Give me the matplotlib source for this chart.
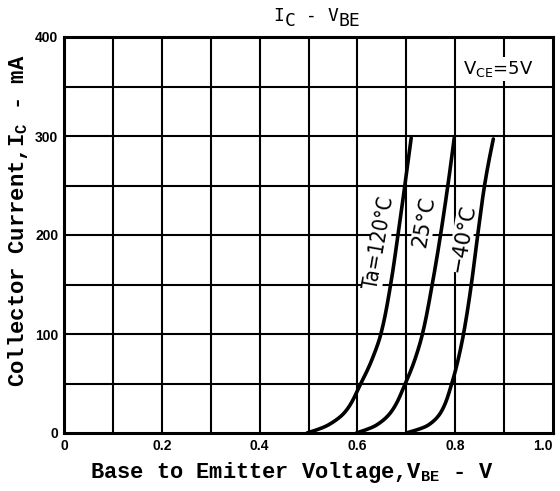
import matplotlib
matplotlib.use("Agg")
import matplotlib.pyplot as plt
import numpy as np

# Data (V_BE in V, I_C in mA)
i_pts = [0, 8, 22, 50, 72, 100, 150, 200, 250, 298]
v_120 = [0.497, 0.540, 0.576, 0.607, 0.628, 0.648, 0.668, 0.683, 0.697, 0.710]
v_25 = [0.598, 0.639, 0.670, 0.698, 0.716, 0.733, 0.753, 0.770, 0.785, 0.798]
i_m40 = [0, 8, 22, 50, 72, 100, 150, 200, 250, 297]
v_m40 = [0.700, 0.745, 0.772, 0.793, 0.805, 0.817, 0.833, 0.846, 0.860, 0.878]

x_ticks = [0, 0.2, 0.4, 0.6, 0.8, 1.0]
x_tick_labels = ["0", "0.2", "0.4", "0.6", "0.8", "1.0"]
y_ticks = [0, 100, 200, 300, 400]
y_tick_labels = ["0", "100", "200", "300", "400"]

mono = "Liberation Mono"


def pchip(x, y, xn):
    """Monotone cubic (Fritsch-Carlson) interpolation."""
    x = np.asarray(x, float); y = np.asarray(y, float)
    h = np.diff(x); d = np.diff(y) / h
    m = np.zeros_like(y)
    for k in range(1, len(x) - 1):
        if d[k-1] * d[k] > 0:
            w1 = 2*h[k] + h[k-1]; w2 = h[k] + 2*h[k-1]
            m[k] = (w1 + w2) / (w1/d[k-1] + w2/d[k])

    def edge(h0, h1, d0, d1):
        mm = ((2*h0 + h1)*d0 - h0*d1) / (h0 + h1)
        if np.sign(mm) != np.sign(d0):
            mm = 0.0
        elif np.sign(d0) != np.sign(d1) and abs(mm) > abs(3*d0):
            mm = 3*d0
        return mm
    m[0] = edge(h[0], h[1], d[0], d[1])
    m[-1] = edge(h[-1], h[-2], d[-1], d[-2])
    idx = np.clip(np.searchsorted(x, xn) - 1, 0, len(x) - 2)
    t = (xn - x[idx]) / h[idx]
    h00 = 2*t**3 - 3*t**2 + 1; h10 = t**3 - 2*t**2 + t
    h01 = -2*t**3 + 3*t**2; h11 = t**3 - t**2
    return h00*y[idx] + h10*h[idx]*m[idx] + h01*y[idx+1] + h11*h[idx]*m[idx+1]


fig = plt.figure(figsize=(5.6, 4.91), dpi=100)
ax = fig.add_axes([64/560, 1-433/491, (553-64)/560, (433-37)/491])

ax.set_xlim(0, 1.0)
ax.set_ylim(0, 400)

for gx in np.arange(0.1, 0.95, 0.1):
    ax.axvline(gx, color="black", lw=1.5, zorder=1)
for gy in np.arange(50, 400, 50):
    ax.axhline(gy, color="black", lw=1.5, zorder=1)

for v, i in [(v_120, i_pts), (v_25, i_pts), (v_m40, i_m40)]:
    ii = np.linspace(i[0], i[-1], 400)
    vv = pchip(i, v, ii)
    ax.plot(vv, ii, color="black", lw=2.6, zorder=3, solid_capstyle="round")

for s in ax.spines.values():
    s.set_linewidth(2.2)

ax.set_xticks(x_ticks)
ax.set_xticklabels(x_tick_labels, fontfamily="Liberation Sans", fontweight="bold", fontsize=10)
ax.set_yticks(y_ticks)
ax.set_yticklabels(y_tick_labels, fontfamily="Liberation Sans", fontweight="bold", fontsize=10)
ax.tick_params(length=0, pad=4)
ax.get_xticklabels()[-1].set_horizontalalignment("right")
ax.get_xticklabels()[-1].set_x(1.01)

ax.set_xlabel(r"Base to Emitter Voltage,V$_{\mathregular{BE}}$ - V", fontfamily=mono,
              fontweight="bold", fontsize=15.8)
ax.xaxis.set_label_coords(0.466, -0.068)
ax.set_ylabel(r"Collector Current,I$_{\mathregular{C}}$ - mA", fontfamily=mono,
              fontweight="bold", fontsize=16.0)
ax.yaxis.set_label_coords(-0.070, 0.535)

# Title built from pieces so that the subscripts stay full size, just lowered
fig.canvas.draw()
renderer = fig.canvas.get_renderer()
pieces = [("I", 0), ("C", -5), (" - ", 0), ("V", 0), ("BE", -5)]
tfont = dict(fontfamily="DejaVu Sans Mono", fontsize=13)
texts = []
for s, dy in pieces:
    t = fig.text(0, 0, s, ha="left", va="baseline", **tfont)
    texts.append((t, dy))
widths = [t.get_window_extent(renderer).width for t, _ in texts]
total = sum(widths)
x0 = 317 - total / 2
base_y = 491 - 21
xpos = x0
for (t, dy), w in zip(texts, widths):
    t.set_transform(matplotlib.transforms.IdentityTransform())
    t.set_position((xpos, base_y + dy))
    xpos += w

ax.text(0.888, 368, r"V$_{\mathregular{CE}}$=5V", fontsize=13, ha="center", va="center",
        bbox=dict(facecolor="white", edgecolor="none", pad=1.5), zorder=4)

ax.text(0.645, 192, "Ta=120°C", rotation=80, fontsize=15, ha="center", va="center",
        fontstretch="condensed",
        bbox=dict(facecolor="white", edgecolor="none", pad=0.3), zorder=4)
ax.text(0.737, 214, "25°C", rotation=80, fontsize=15, ha="center", va="center",
        bbox=dict(facecolor="white", edgecolor="none", pad=0.3), zorder=4)
ax.text(0.815, 197, "−40°C", rotation=80, fontsize=15, ha="center", va="center",
        bbox=dict(facecolor="white", edgecolor="none", pad=0.3), zorder=4)

fig.savefig("out.png", dpi=100)
